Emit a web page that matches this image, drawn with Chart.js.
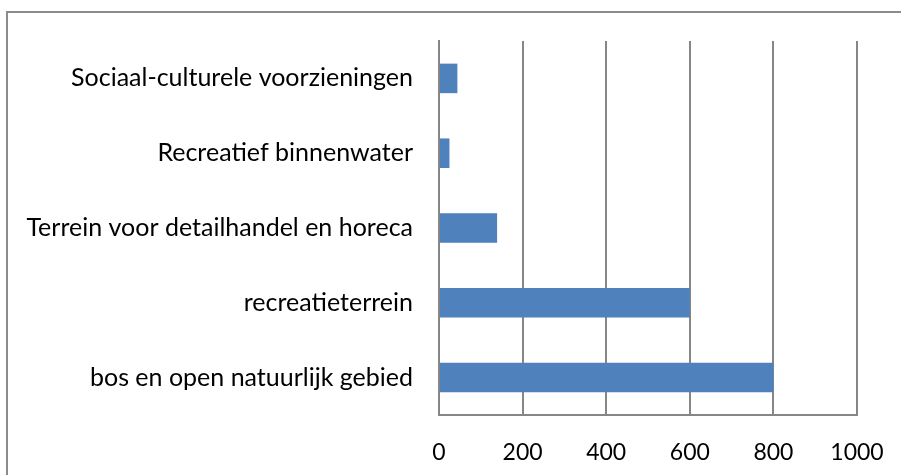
<!DOCTYPE html>
<html>
<head>
<meta charset="utf-8">
<script src="https://cdn.jsdelivr.net/npm/chart.js@4"></script>
<style>
  body { margin: 0; background: #fff; }
  .wrap { position: relative; width: 901px; height: 475px; overflow: hidden; }
  .frame { position: absolute; left: 6px; top: 11px; width: 1000px; height: 1000px;
           border: 2px solid #8c8c8c; }
  canvas { position: absolute; left: 0; top: 0; }
</style>
</head>
<body>
<div class="wrap">
  <div class="frame"></div>
  <canvas id="chart" width="901" height="475"></canvas>
</div>
<script>
const categories = [
    'Sociaal-culturele voorzieningen',
    'Recreatief binnenwater',
    'Terrein voor detailhandel en horeca',
    'recreatieterrein',
    'bos en open natuurlijk gebied'
];
const values = [44, 25, 139, 600, 800];
const xMin = 0;
const xMax = 1000;
const xStep = 200;

const gray = '#868686';

new Chart(document.getElementById('chart'), {
    type: 'bar',
    data: {
        labels: categories,
        datasets: [{
            data: values,
            backgroundColor: '#4f81bd',
            categoryPercentage: 1,
            barPercentage: 0.395
        }]
    },
    options: {
        indexAxis: 'y',
        responsive: false,
        animation: false,
        layout: { padding: { top: 41, right: 44, bottom: 0, left: 0 } },
        scales: {
            x: {
                min: xMin,
                max: xMax,
                ticks: {
                    stepSize: xStep,
                    color: '#000',
                    font: { family: 'Lato', size: 23 },
                    padding: 24,
                    callback: (v) => String(v)
                },
                grid: { color: gray, lineWidth: 2, drawTicks: false },
                border: { color: gray, width: 2 },
                afterFit: (s) => { s.height = 60; s.paddingLeft = 0; s.paddingRight = 0; }
            },
            y: {
                ticks: { color: '#000', font: { family: 'Lato', size: 25 }, padding: 26 },
                grid: { display: false, drawTicks: false },
                border: { color: gray, width: 2 },
                afterFit: (s) => { s.width = 439; }
            }
        },
        plugins: {
            legend: { display: false },
            tooltip: { enabled: false }
        }
    }
});
</script>
</body>
</html>
